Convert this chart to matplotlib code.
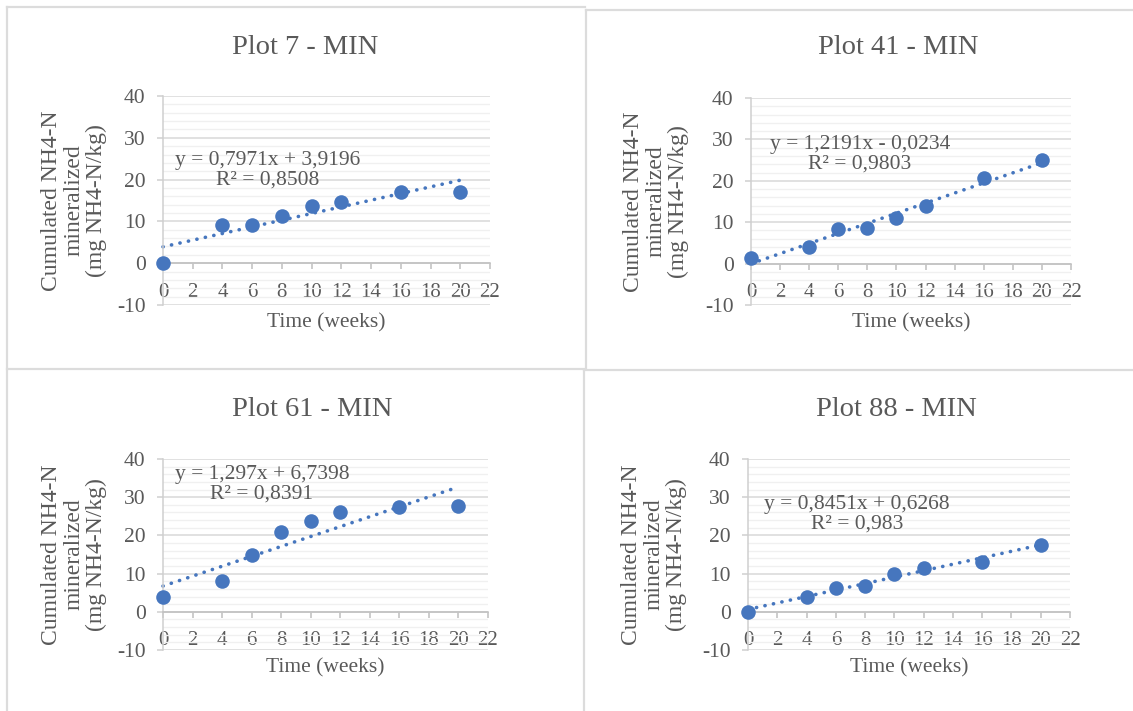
import matplotlib.pyplot as plt
from matplotlib.lines import Line2D
from matplotlib.ticker import MultipleLocator

plt.rcParams['font.family'] = ['Liberation Serif', 'DejaVu Serif']
plt.rcParams['axes.unicode_minus'] = False

W, H = 1133, 711

# incubation data, cumulated NH4-N per plot
weeks = [0, 4, 6, 8, 10, 12, 16, 20]
titles = ["Plot 7 - MIN", "Plot 41 - MIN", "Plot 61 - MIN", "Plot 88 - MIN"]
nh4_plot7 = [0.0, 9.15, 9.1, 11.4, 13.8, 14.6, 17.1, 17.1]
nh4_plot41 = [1.45, 4.1, 8.3, 8.7, 10.9, 13.9, 20.6, 25.1]
nh4_plot61 = [3.8, 8.0, 14.9, 21.0, 23.7, 26.1, 27.4, 27.7]
nh4_plot88 = [0.0, 3.8, 6.3, 6.7, 9.9, 11.4, 13.0, 17.5]
series = [nh4_plot7, nh4_plot41, nh4_plot61, nh4_plot88]

# linear trendlines
slopes = [0.7971, 1.2191, 1.297, 0.8451]
intercepts = [3.9196, -0.0234, 6.7398, 0.6268]
r2 = [0.8508, 0.9803, 0.8391, 0.983]

# layout in pixels: axes (left, right, top, bottom), title centre, equation centre, ylabel centre x
boxes = [(163, 490, 96, 305), (751, 1071, 98, 305), (163, 488, 459, 650), (748, 1070, 459, 650)]
title_pos = [(305, 47), (898, 48), (312, 410), (896, 410)]
eq_pos = [(268, 158), (860, 142), (262, 472), (857, 502)]
ylab_x = [74, 656, 74, 654]

TXT = '#595959'
BLUE = '#4676BE'
GRID = '#D9D9D9'


def fx(x):
    return x / W


def fy(y):
    return 1 - y / H


def num(v):
    return f"{v:g}".replace('.', ',')


fig = plt.figure(figsize=(W / 100, H / 100), dpi=100)

for i in range(4):
    l, r, t, b = boxes[i]
    ax = fig.add_axes([fx(l), fy(b), fx(r - l), (b - t) / H])
    ax.set_xlim(0, 22)
    ax.set_ylim(-10, 40)

    ax.spines['top'].set_visible(False)
    ax.spines['right'].set_visible(False)
    ax.spines['bottom'].set_position(('data', 0))
    ax.spines['bottom'].set_color('#BFBFBF')
    ax.spines['left'].set_color('#CFCFCF')
    ax.spines['bottom'].set_linewidth(1.1)
    ax.spines['left'].set_linewidth(1.1)

    ax.xaxis.set_major_locator(MultipleLocator(2))
    ax.yaxis.set_major_locator(MultipleLocator(10))
    ax.yaxis.set_minor_locator(MultipleLocator(2))
    ax.grid(axis='y', which='major', color=GRID, lw=1.1, zorder=0)
    ax.grid(axis='y', which='minor', color='#F0F0F0', lw=1.0, zorder=0)
    ax.set_axisbelow(True)
    ax.tick_params(axis='x', which='major', direction='out', length=4.5, width=1.1,
                   color='#BFBFBF', pad=9.5, labelsize=15, labelcolor=TXT)
    ax.tick_params(axis='y', which='major', direction='out', length=4.5, width=1.1,
                   color='#CFCFCF', pad=8, labelsize=15.5, labelcolor=TXT)
    ax.tick_params(axis='y', which='minor', length=0)

    ys = series[i]
    x_fit = [weeks[0], weeks[-1]]
    y_fit = [slopes[i] * x + intercepts[i] for x in x_fit]
    ax.plot(x_fit, y_fit, color=BLUE, lw=2.6, linestyle=(0, (0.05, 2.35)),
            dash_capstyle='round', zorder=2, clip_on=False)
    ax.scatter(weeks, ys, s=110, color=BLUE, zorder=3, clip_on=False, linewidths=0)

    sign = '+' if intercepts[i] >= 0 else '-'
    eq = f"y = {num(slopes[i])}x {sign} {num(abs(intercepts[i]))}\nR² = {num(r2[i])}"
    ex, ey = eq_pos[i]
    fig.text(fx(ex), fy(ey + 12), eq, ha='center', va='center', fontsize=15.5,
             color=TXT, linespacing=1.05)

    tx, ty = title_pos[i]
    fig.text(fx(tx), fy(ty), titles[i], ha='center', va='center', fontsize=20.5, color=TXT)

    fig.text(fx((l + r) / 2), fy(b + 18), "Time (weeks)", ha='center', va='center',
             fontsize=15.5, color=TXT)
    fig.text(fx(ylab_x[i]), fy((t + b) / 2),
             "Cumulated NH4-N\nmineralized\n(mg NH4-N/kg)", rotation=90,
             ha='center', va='center', fontsize=17, color=TXT, linespacing=1.1)

# cell borders around the four charts
border = '#DCDCDC'
segs = [
    ((7, 585), (7, 7)),
    ((7, 7), (7, 711)),
    ((7, 585), (368.5, 368.5)),
    ((586, 1133), (9.5, 9.5)),
    ((586, 586), (9.5, 369)),
    ((584, 1133), (370, 370)),
    ((583.5, 583.5), (370, 711)),
]
for xs, ys in segs:
    fig.add_artist(Line2D([fx(v) for v in xs], [fy(v) for v in ys], color=border, lw=1.6))

fig.savefig("out.png", dpi=100)
